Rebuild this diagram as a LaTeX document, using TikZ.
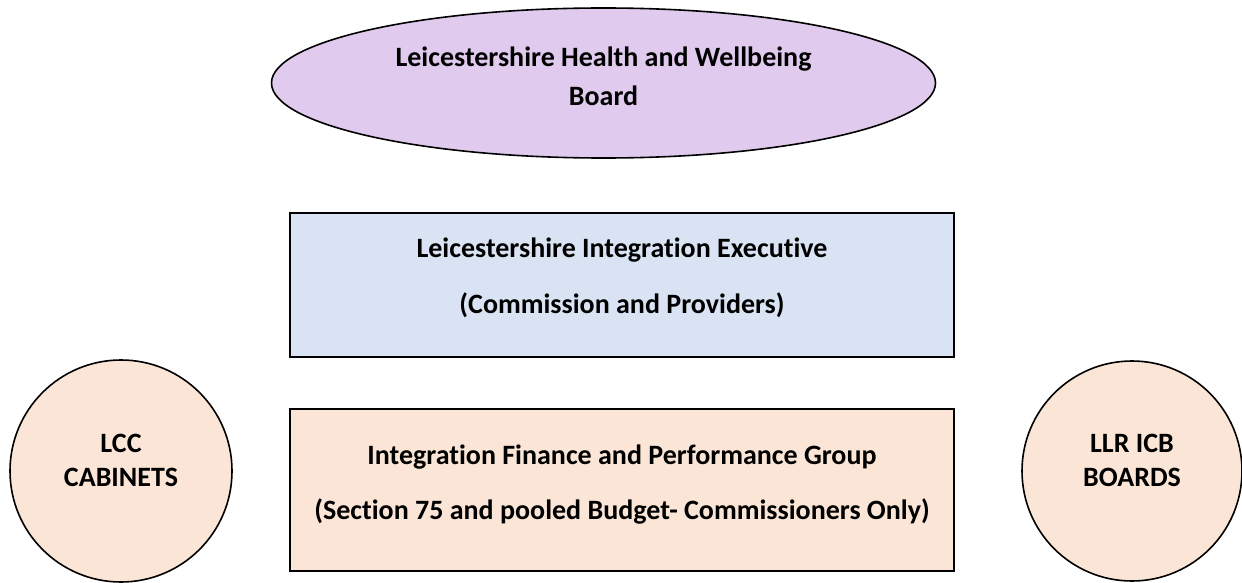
\documentclass[tikz,border=0pt]{standalone}
\usepackage{fontspec}
\setmainfont{Carlito}[Ligatures=NoCommon]
\usetikzlibrary{shapes.geometric}
\definecolor{hwbfill}{RGB}{224,203,238}
\definecolor{bluefill}{RGB}{218,227,243}
\definecolor{orangefill}{RGB}{251,229,214}
\tikzset{
  shp/.style={draw=black, line width=1.6pt, inner sep=0pt},
  txt/.style={font=\fontsize{28}{39}\selectfont\bfseries, align=center, inner sep=0pt, text=black},
}
\begin{document}
\begin{tikzpicture}[x=1pt,y=-1pt]
\useasboundingbox (0,0) rectangle (1242,583);
% shapes
\node[shp, ellipse, fill=hwbfill, minimum width=664pt, minimum height=150pt] (hwb) at (603.5,83) {};
\node[shp, rectangle, fill=bluefill, minimum width=664pt, minimum height=144pt] (lie) at (622,285) {};
\node[shp, rectangle, fill=orangefill, minimum width=664pt, minimum height=162pt] (ifp) at (622,490) {};
\node[shp, circle, fill=orangefill, minimum size=222pt] (lcc) at (121,471) {};
\node[shp, circle, fill=orangefill, minimum size=220pt] (llr) at (1132,471) {};
% texts
\node[txt, anchor=base] (hwbt1) at (603.5,67) {Leicestershire Health and Wellbeing};
\node[txt, anchor=base] (hwbt2) at (603.5,106) {Board};
\node[txt, anchor=base] (liet1) at (622,257) {Leicestershire Integration Executive};
\node[txt, anchor=base] (liet2) at (622,313) {(Commission and Providers)};
\node[txt, anchor=base] (ifpt1) at (622,464) {Integration Finance and Performance Group};
\node[txt, anchor=base] (ifpt2) at (622,519) {(Section 75 and pooled Budget- Commissioners Only)};
\node[txt, anchor=base] (lcct1) at (121,452) {LCC};
\node[txt, anchor=base] (lcct2) at (121,486) {CABINETS};
\node[txt, anchor=base] (llrt1) at (1132,452) {LLR ICB};
\node[txt, anchor=base] (llrt2) at (1132,486) {BOARDS};
\end{tikzpicture}
\end{document}
